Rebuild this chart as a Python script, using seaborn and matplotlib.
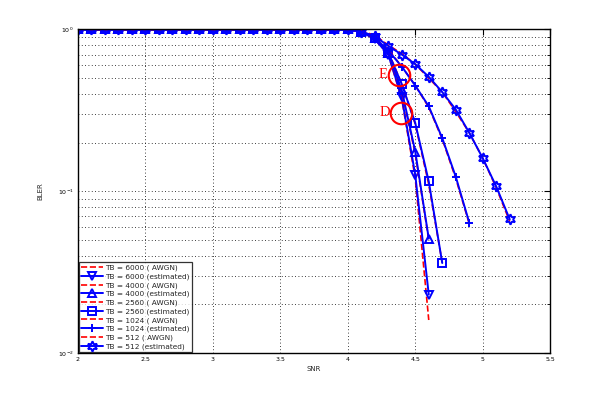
import numpy as np
import pandas as pd
import matplotlib
matplotlib.use("Agg")
import matplotlib.pyplot as plt
import seaborn as sns

sns.set_style("white")
plt.rcParams['font.family'] = ['DejaVu Sans']

# ---- data ----
snr_low = [2.0, 2.1, 2.2, 2.3, 2.4, 2.5, 2.6, 2.7, 2.8, 2.9, 3.0,
           3.1, 3.2, 3.3, 3.4, 3.5, 3.6, 3.7, 3.8, 3.9, 4.0]
bler_low = [1.0] * len(snr_low)

snr_6000 = [4.1, 4.2, 4.3, 4.4, 4.5, 4.6]
bler_6000_awgn = [0.97, 0.87, 0.70, 0.37, 0.12, 0.016]
bler_6000_est = [0.97, 0.87, 0.70, 0.38, 0.126, 0.023]

snr_4000 = [4.1, 4.2, 4.3, 4.4, 4.5, 4.6]
bler_4000_awgn = [0.97, 0.88, 0.72, 0.41, 0.17, 0.050]
bler_4000_est = [0.97, 0.88, 0.72, 0.42, 0.176, 0.051]

snr_2560 = [4.1, 4.2, 4.3, 4.4, 4.5, 4.6, 4.7]
bler_2560_awgn = [0.97, 0.88, 0.73, 0.46, 0.26, 0.11, 0.036]
bler_2560_est = [0.97, 0.88, 0.72, 0.46, 0.264, 0.115, 0.036]

snr_1024 = [4.1, 4.2, 4.3, 4.4, 4.5, 4.6, 4.7, 4.8, 4.9]
bler_1024_awgn = [0.97, 0.89, 0.75, 0.59, 0.45, 0.33, 0.21, 0.12, 0.063]
bler_1024_est = [0.97, 0.89, 0.74, 0.59, 0.45, 0.335, 0.213, 0.123, 0.064]

snr_512 = [4.1, 4.2, 4.3, 4.4, 4.5, 4.6, 4.7, 4.8, 4.9, 5.0, 5.1, 5.2]
bler_512_awgn = [0.98, 0.92, 0.80, 0.71, 0.61, 0.50, 0.41, 0.31, 0.23, 0.16, 0.105, 0.065]
bler_512_est = [0.97, 0.91, 0.79, 0.70, 0.61, 0.51, 0.41, 0.32, 0.23, 0.16, 0.107, 0.067]

tb_sizes = ["6000", "4000", "2560", "1024", "512"]
series_snr = [snr_6000, snr_4000, snr_2560, snr_1024, snr_512]
series_awgn = [bler_6000_awgn, bler_4000_awgn, bler_2560_awgn, bler_1024_awgn, bler_512_awgn]
series_est = [bler_6000_est, bler_4000_est, bler_2560_est, bler_1024_est, bler_512_est]
est_markers = ["v", "^", "s", "+", (6, 1, 0)]
est_msizes = [5.5, 5.5, 5.5, 5.5, 7.5]

annot_labels = ["E", "D"]
annot_snr = [4.38, 4.394]
annot_bler = [0.524, 0.305]

# ---- figure ----
fig = plt.figure(figsize=(6.08, 3.98), dpi=100)
ax = fig.add_axes([0.128, 0.113, 0.777, 0.813])

for tb, xs, ya, ye, mk, ms in zip(tb_sizes, series_snr, series_awgn,
                                  series_est, est_markers, est_msizes):
    df = pd.DataFrame({"SNR": snr_low + xs,
                       "AWGN": bler_low + ya,
                       "EST": bler_low + ye})
    sns.lineplot(data=df, x="SNR", y="AWGN", ax=ax, color="red",
                 linestyle="--", linewidth=1.2, label=f"TB = {tb} ( AWGN)",
                 estimator=None, sort=False)
    sns.lineplot(data=df, x="SNR", y="EST", ax=ax, color="blue",
                 linestyle="-", linewidth=1.4, marker=mk, markersize=ms,
                 markerfacecolor="none", markeredgecolor="blue",
                 markeredgewidth=1.4, label=f"TB = {tb} (estimated)",
                 estimator=None, sort=False)

ax.set_yscale("log")
ax.set_xlim(2, 5.5)
ax.set_ylim(1e-2, 1e0)
ax.set_xticks([2, 2.5, 3, 3.5, 4, 4.5, 5, 5.5])
ax.set_xticklabels(["2", "2.5", "3", "3.5", "4", "4.5", "5", "5.5"])

ax.grid(True, which="major", axis="both", color="black",
        linestyle=(0, (1, 3)), linewidth=0.6)
ax.grid(True, which="minor", axis="y", color="black",
        linestyle=(0, (1, 3)), linewidth=0.6)

ax.tick_params(axis="both", which="both", direction="in", top=True,
               right=True, labelsize=4.5, colors="black", pad=3)
ax.tick_params(axis="both", which="major", length=4, width=0.8)
ax.tick_params(axis="y", which="minor", length=2, width=0.6)
for sp in ax.spines.values():
    sp.set_color("black")
    sp.set_linewidth(1.0)

ax.set_xlabel("SNR", fontsize=5, labelpad=3)
ax.set_ylabel("BLER", fontsize=5, labelpad=10)

# annotations (circles + letters)
for lab, sx, sy in zip(annot_labels, annot_snr, annot_bler):
    ax.plot([sx], [sy], marker="o", markersize=15.5, markerfacecolor="none",
            markeredgecolor="red", markeredgewidth=1.5, linestyle="none",
            label="_nolegend_")
    ax.annotate(lab, xy=(sx, sy), xytext=(-11.5, 0), textcoords="offset points",
                color="red", fontsize=10.5, family="Liberation Serif",
                ha="center", va="center")

leg = ax.legend(loc="lower left", fontsize=5.3, frameon=True, fancybox=False,
                edgecolor="black", handlelength=3.0, labelspacing=0.28,
                borderpad=0.3, handletextpad=0.3, borderaxespad=0.15)
leg.get_frame().set_linewidth(0.9)

fig.savefig("out.png", dpi=100, facecolor="white")
